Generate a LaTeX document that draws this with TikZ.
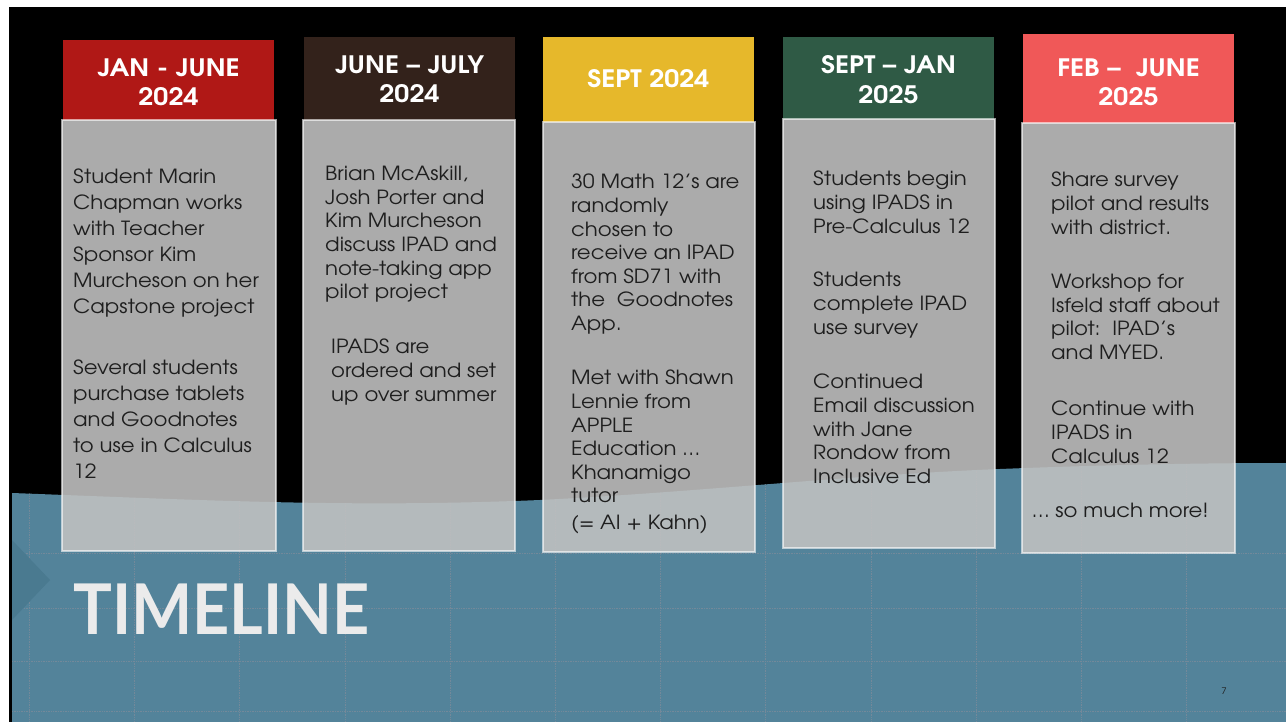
\documentclass[tikz,border=0pt]{standalone}
\usepackage{fontspec}
\setmainfont{texgyreadventor}[Extension=.otf, UprightFont=*-regular, BoldFont=*-bold, FakeStretch=1.09]
\newfontfamily\hdrfont{texgyreadventor}[Extension=.otf, UprightFont=*-bold, FakeStretch=1.12]
\newfontfamily\titlefont{Lato}[FakeStretch=0.925]
\definecolor{slideblue}{HTML}{53839A}
\definecolor{tricol}{HTML}{4A7A90}
\definecolor{gridc}{HTML}{73899A}
\definecolor{hred}{HTML}{B01816}
\definecolor{hbrown}{HTML}{33221B}
\definecolor{hgold}{HTML}{E6B82B}
\definecolor{hgreen}{HTML}{2F5A45}
\definecolor{hcoral}{HTML}{F05858}
\definecolor{boxgray}{HTML}{C1C1C1}
\definecolor{txt}{HTML}{1E1E1E}
\definecolor{titlewhite}{HTML}{EBEBEB}
\tikzset{
  hdrtext/.style={text=white, align=center, inner sep=0pt, font=\hdrfont\fontsize{24}{29.5}\selectfont},
  graybox/.style={fill=boxgray, fill opacity=0.89, draw=white, draw opacity=0.6, line width=1.5pt},
  bodytext/.style={text=txt, align=left, inner sep=0pt, anchor=north west, font=\fontsize{19.5}{23.6}\selectfont},
  bodywide/.style={bodytext, font=\fontsize{19.5}{26}\selectfont},
  gridline/.style={gridc, densely dotted, line width=0.7pt},
}
\def\wavepath{(12,722) -- (12,493) .. controls (200,500) and (350,508) .. (540,500) .. controls (700,492) and (850,475) .. (1000,469) .. controls (1100,465) and (1200,463) .. (1286,463) -- (1286,722) -- cycle}
\begin{document}
\begin{tikzpicture}[x=1pt, y=-1pt]
\useasboundingbox (0,0) rectangle (1286,722);
\fill[white] (0,0) rectangle (1286,722);
\fill[black] (9,7) rectangle (1286,722);
\fill[slideblue] \wavepath;
\begin{scope}
  \clip \wavepath;
  \foreach \gx in {29,134,239,345,450,555,660,765,871,976,1081,1186}
    \draw[gridline] (\gx,440) -- (\gx,722);
  \foreach \gy in {553,608,661,711}
    \draw[gridline] (12,\gy) -- (1286,\gy);
\end{scope}
\fill[tricol] (12,540) -- (50,580) -- (12,620) -- cycle;

% headers
\fill[hred]   (63,40) rectangle (274,120);
\fill[hbrown] (304,37) rectangle (515,120);
\fill[hgold]  (543,37) rectangle (754,122);
\fill[hgreen] (783,37) rectangle (994,119);
\fill[hcoral] (1023,34) rectangle (1234,123);

% gray boxes
\draw[graybox] (62,120) rectangle (276,551);
\draw[graybox] (303,120) rectangle (515,551);
\draw[graybox] (543,122) rectangle (755,552);
\draw[graybox] (783,119) rectangle (995,548);
\draw[graybox] (1022,123) rectangle (1235,553);

% header texts
\node[hdrtext] (h1) at (168.5,82.5) {JAN - JUNE\\2024};
\node[hdrtext] (h2) at (409.5,79.5) {JUNE – JULY\\2024};
\node[hdrtext] (h3) at (648.5,78.5) {SEPT 2024};
\node[hdrtext] (h4) at (888.5,79.5) {SEPT – JAN\\2025};
\node[hdrtext] (h5) at (1128.5,82.5) {FEB –\ \ JUNE\\2025};

% column 1
\node[bodywide] (c1a) at (73,169) {Student Marin\\Chapman works\\with Teacher\\Sponsor Kim\\Murcheson on her\\Capstone project};
\node[bodywide] (c1b) at (73,360) {Several students\\purchase tablets\\and Goodnotes\\to use in Calculus\\12};

% column 2
\node[bodytext] (c2a) at (325,166) {Brian McAskill,\\Josh Porter and\\Kim Murcheson\\discuss IPAD and\\note-taking app\\pilot project};
\node[bodytext] (c2b) at (331,339) {IPADS are\\ordered and set\\up over summer};

% column 3
\node[bodytext] (c3a) at (571,174) {30 Math 12’s are\\randomly\\chosen to\\receive an IPAD\\from SD71 with\\the\ \ Goodnotes\\App.};
\node[bodytext] (c3b) at (571,370) {Met with Shawn\\Lennie from\\APPLE\\Education …\\Khanamigo\\tutor};
\node[bodytext] (c3c) at (571,515) {(= AI + Kahn)};

% column 4
\node[bodytext] (c4a) at (813,171) {Students begin\\using IPADS in\\Pre-Calculus 12};
\node[bodytext] (c4b) at (813,272) {Students\\complete IPAD\\use survey};
\node[bodytext] (c4c) at (813,374) {Continued\\Email discussion\\with Jane\\Rondow from\\Inclusive Ed};

% column 5
\node[bodytext] (c5a) at (1051,172) {Share survey\\pilot and results\\with district.};
\node[bodytext] (c5b) at (1051,274) {Workshop for\\Isfeld staff about\\pilot:\ \ IPAD’s\\and MYED.};
\node[bodytext] (c5c) at (1051,401) {Continue with\\IPADS in\\Calculus 12};
\node[bodytext] (c5d) at (1032,503) {… so much more!};

% title
\node[anchor=base west, inner sep=0pt, text=titlewhite, font=\titlefont\bfseries\fontsize{70}{70}\selectfont] (title) at (73,634) {TIMELINE};
\node[anchor=base, inner sep=0pt, text=txt, font=\fontsize{9}{9}\selectfont] (pnum) at (1224,694) {7};
\end{tikzpicture}
\end{document}
